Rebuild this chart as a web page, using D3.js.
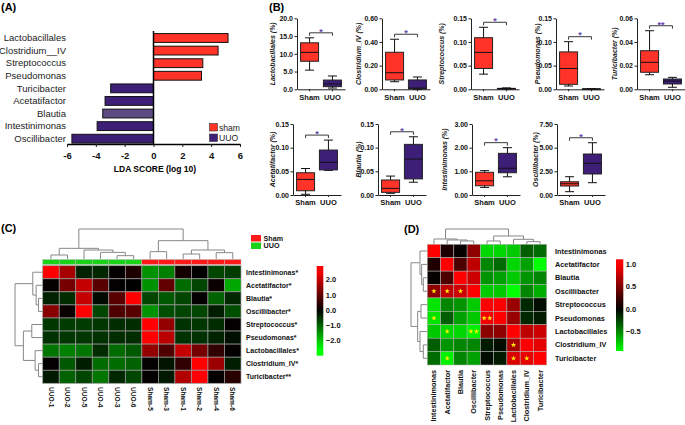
<!DOCTYPE html>
<html>
<head>
<meta charset="utf-8">
<script src="https://cdn.jsdelivr.net/npm/d3@7"></script>
<style>
  body { margin: 0; background: #fff; }
  svg { display: block; font-family: "Liberation Sans", Arial, sans-serif; }
</style>
</head>
<body>
<svg id="fig" width="685" height="425"></svg>
<script>
// ---------- (A) LDA scores
const ldaTaxa = ["Lactobacillales", "Clostridium__IV", "Streptococcus", "Pseudomonas", "Turicibacter",
                 "Acetatifactor", "Blautia", "Intestinimonas", "Oscillibacter"];
const ldaScore = [5.17, 4.48, 3.42, 3.33, -2.97, -3.36, -3.52, -3.91, -5.66];
const ldaGroup = ["sham", "sham", "sham", "sham", "UUO", "UUO", "UUO", "UUO", "UUO"];
const ldaTicks = [-6, -4, -2, 0, 2, 4, 6];
const ldaLegend = ["sham", "UUO"];

// ---------- (B) box plots: [min, q1, median, q3, max] in %
const boxTaxa = ["Lactobacillales", "Clostridium_IV", "Streptococcus", "Pseudomonas", "Turicibacter",
                 "Acetatifactor", "Blautia", "Intestinimonas", "Oscillibacter"];
const boxGroups = ["Sham", "UUO"];
const shamBox = [
  [5.4, 7.9, 10.4, 13.1, 14.5],
  [0.064, 0.079, 0.14, 0.313, 0.423],
  [0.032, 0.044, 0.078, 0.109, 0.131],
  [0.007, 0.0106, 0.044, 0.079, 0.1006],
  [0.0123, 0.0144, 0.0228, 0.0326, 0.0495],
  [0.0015, 0.009, 0.033, 0.047, 0.056],
  [0.0035, 0.0056, 0.014, 0.0317, 0.040],
  [0.32, 0.39, 0.60, 0.96, 1.03],
  [0.35, 0.95, 1.19, 1.40, 1.93]
];
const uuoBox = [
  [0.35, 0.75, 1.5, 2.6, 3.75],
  [0.0, 0.003, 0.01, 0.079, 0.104],
  [0.0005, 0.001, 0.0015, 0.002, 0.003],
  [0.0002, 0.0005, 0.0008, 0.001, 0.0015],
  [0.0017, 0.0045, 0.007, 0.0087, 0.0101],
  [0.052, 0.053, 0.069, 0.095, 0.116],
  [0.027, 0.034, 0.076, 0.107, 0.123],
  [0.77, 0.94, 1.13, 1.76, 2.0],
  [1.30, 2.22, 3.35, 4.33, 5.52]
];
const boxTicks = [
  [0, 5, 10, 15, 20], [0, 0.2, 0.4, 0.6], [0, 0.05, 0.10, 0.15], [0, 0.05, 0.10, 0.15],
  [0, 0.02, 0.04, 0.06], [0, 0.05, 0.10, 0.15], [0, 0.05, 0.10, 0.15], [0, 1, 2, 3], [0, 2.5, 5, 7.5]
];
const boxFmt = [".1f", ".2f", ".2f", ".2f", ".2f", ".2f", ".2f", ".2f", ".2f"];
const boxSig = ["*", "*", "*", "*", "**", "*", "*", "*", "*"];

// ---------- (C) z-score heatmap
const cCols = ["UUO-1", "UUO-2", "UUO-5", "UUO-4", "UUO-3", "UUO-6",
               "Sham-5", "Sham-3", "Sham-1", "Sham-2", "Sham-4", "Sham-6"];
const cColGroup = ["UUO", "UUO", "UUO", "UUO", "UUO", "UUO", "Sham", "Sham", "Sham", "Sham", "Sham", "Sham"];
const cRows = ["Intestinimonas", "Acetatifactor", "Blautia", "Oscillibacter", "Streptococcus",
               "Pseudomonas", "Lactobacillales", "Clostridium_IV", "Turicibacter"];
const cRowSig = ["*", "*", "*", "*", "*", "*", "*", "*", "**"];
const cZ = [
  [2.6, 1.7, -0.35, -0.4, 0.05, 0.3, -1.5, -1.3, 0.2, 0.0, -0.7, -0.6],
  [0.05, 1.2, 2.0, 0.9, 0.02, 0.0, -1.5, 1.0, -1.1, -0.7, 0.1, -1.7],
  [-0.35, -0.45, 2.0, -0.1, 0.9, 2.6, -0.7, -0.9, -0.7, 0.02, -1.0, -0.4],
  [1.4, 0.1, 2.6, -0.7, 0.8, 0.9, -1.5, -0.8, -0.7, -0.7, -0.3, -0.8],
  [-0.55, -0.6, -0.6, -0.55, -0.45, -0.45, 2.6, 1.5, -0.5, -0.55, -0.45, 0.02],
  [-0.5, -0.55, -0.55, -0.5, -0.45, -0.45, 2.6, 1.9, -0.5, -0.5, -0.35, -0.15],
  [-1.2, -1.3, -1.2, -0.45, -1.1, -0.9, 1.5, 0.8, 2.0, 1.2, 0.5, 0.05],
  [0.02, -0.9, -0.3, -1.1, -1.1, -1.0, 0.02, -0.2, 0.5, 2.6, 1.6, -0.3],
  [-0.25, -1.0, -0.7, -1.2, -0.4, -0.7, 0.05, -0.25, 1.8, 2.6, 0.02, 0.4]
];
const cTicks = [2, 1, 0, -1, -2];
// dendrograms: [height, left, right]
const cColTree = [90, [32, [12, "UUO-1", "UUO-2"], [27, "UUO-5", [20, "UUO-4", [10, "UUO-3", "UUO-6"]]]],
                      [55, [22, "Sham-5", "Sham-3"], [27, [15, "Sham-1", "Sham-2"], [19, "Sham-4", "Sham-6"]]]];
const cRowTree = [82, [29, "Intestinimonas", [19, "Acetatifactor", [12, "Blautia", "Oscillibacter"]]],
                      [57, [32, "Streptococcus", "Pseudomonas"], [22, "Lactobacillales", [12, "Clostridium_IV", "Turicibacter"]]]];

// ---------- (D) correlation heatmap
const dTaxa = ["Intestinimonas", "Acetatifactor", "Blautia", "Oscillibacter", "Streptococcus",
               "Pseudomonas", "Lactobacillales", "Clostridium_IV", "Turicibacter"];
const dCorr = [
  [1.0, 0.12, 0.02, 0.55, -0.8, -0.8, -0.75, -0.35, -0.4],
  [0.12, 1.0, 0.3, 0.75, -0.5, -0.4, -0.8, -0.6, -0.95],
  [0.02, 0.3, 1.0, 0.8, -0.55, -0.6, -0.75, -0.55, -0.5],
  [0.55, 0.75, 0.8, 1.0, -0.75, -0.75, -0.95, -0.5, -0.65],
  [-0.85, -0.5, -0.55, -0.75, 1.0, 0.98, 0.6, -0.15, -0.05],
  [-0.85, -0.35, -0.6, -0.75, 0.95, 1.0, 0.6, -0.15, -0.1],
  [-0.75, -0.8, -0.8, -0.9, 0.55, 0.55, 1.0, 0.75, 0.8],
  [-0.35, -0.55, -0.5, -0.5, -0.1, -0.05, 0.65, 1.0, 0.9],
  [-0.4, -0.9, -0.5, -0.6, -0.05, -0.1, 0.85, 0.9, 1.0]
];
const dStars = [
  ["Oscillibacter", "Intestinimonas", 1], ["Oscillibacter", "Acetatifactor", 1], ["Oscillibacter", "Blautia", 1],
  ["Pseudomonas", "Intestinimonas", 1], ["Pseudomonas", "Streptococcus", 2],
  ["Lactobacillales", "Acetatifactor", 1], ["Lactobacillales", "Oscillibacter", 2],
  ["Clostridium_IV", "Lactobacillales", 1],
  ["Turicibacter", "Acetatifactor", 1], ["Turicibacter", "Lactobacillales", 1], ["Turicibacter", "Clostridium_IV", 1]
];
const dTicks = [1.0, 0.5, 0.0, -0.5];
const dColTree = [46, [16, "Intestinimonas", [13, "Acetatifactor", [10, "Blautia", "Oscillibacter"]]],
                      [25, [10, "Streptococcus", "Pseudomonas"], [15, "Lactobacillales", [8, "Clostridium_IV", "Turicibacter"]]]];
const dRowTree = [49, [22, "Intestinimonas", [17, "Acetatifactor", [12, "Blautia", "Oscillibacter"]]],
                      [29, [19, "Streptococcus", "Pseudomonas"], [22, "Lactobacillales", [12, "Clostridium_IV", "Turicibacter"]]]];

// ---------- styles
const red = "#ff3328", purple = "#3d1f77", lightPurple = "#5d4b82", starPurple = "#6547b0";
const svg = d3.select("#fig");

function styleAxis(g, size, weight) {
  g.attr("font-family", null).attr("font-size", null);
  g.selectAll("text").attr("font-size", size).attr("font-weight", weight).attr("fill", "#111");
  g.selectAll("path.domain, line").attr("stroke", "#222");
}

function panelLabel(t, x, y) {
  svg.append("text").attr("x", x).attr("y", y).attr("font-size", 11).attr("font-weight", "bold").text(t);
}

// ================= (A)
panelLabel("(A)", 1, 10.5);
const gA = svg.append("g");
const xA = d3.scaleLinear().domain([-6, 6]).range([67, 240]);
const yA = d3.scaleBand().domain(ldaTaxa).range([31.7, 145]).paddingInner(0.3).paddingOuter(0.15);

gA.selectAll("rect.bar")
  .data(ldaTaxa)
  .enter().append("rect")
  .attr("x", (d, i) => xA(Math.min(0, ldaScore[i])))
  .attr("y", d => yA(d))
  .attr("width", (d, i) => Math.abs(xA(ldaScore[i]) - xA(0)))
  .attr("height", yA.bandwidth())
  .attr("fill", (d, i) => ldaGroup[i] === "sham" ? red : (d === "Blautia" ? lightPurple : purple))
  .attr("stroke", "#111")
  .attr("stroke-width", 1);

gA.append("line").attr("x1", xA(0)).attr("x2", xA(0)).attr("y1", 31).attr("y2", 144)
  .attr("stroke", "#000").attr("stroke-width", 1.5);

const axA = gA.append("g").attr("transform", "translate(0,144)")
  .call(d3.axisBottom(xA).tickValues(ldaTicks).tickFormat(d => String(d)).tickSize(3).tickPadding(5).tickSizeOuter(0));
styleAxis(axA, 9.5, "bold");
axA.select("path.domain").attr("stroke", "#000").attr("stroke-width", 1.3);

gA.selectAll("text.lab")
  .data(ldaTaxa)
  .enter().append("text")
  .attr("x", 66).attr("y", d => yA(d) + yA.bandwidth() / 2).attr("dy", "0.35em")
  .attr("text-anchor", "end").attr("font-size", 9.5).attr("fill", "#222").text(d => d);

gA.append("text").attr("x", 155).attr("y", 172).attr("text-anchor", "middle")
  .attr("font-size", 8.5).attr("font-weight", "bold").text("LDA SCORE (log 10)");

ldaLegend.forEach((k, i) => {
  gA.append("rect").attr("x", 209.5).attr("y", 123.5 + i * 10.5).attr("width", 8).attr("height", 7.5)
    .attr("fill", k === "sham" ? red : purple).attr("stroke", "#333").attr("stroke-width", 0.6);
  gA.append("text").attr("x", 219).attr("y", 130.5 + i * 10.5).attr("font-size", 8.6).attr("fill", "#222").text(k);
});

// ================= (B)
panelLabel("(B)", 269, 10.5);
const boxAxisX = [297, 382, 471, 556, 637, 293, 378, 472, 557];
const boxLabelOff = [24, 23, 29, 18, 22, 20, 19, 27, 21];
const rowRange = [[89.3, 18.3], [195, 124]];

boxTaxa.forEach((name, i) => {
  const row = i < 5 ? 0 : 1;
  const ax = boxAxisX[i];
  const ticks = boxTicks[i];
  const y = d3.scaleLinear().domain([0, ticks[ticks.length - 1]]).range(rowRange[row]);
  const x = d3.scaleBand().domain(boxGroups).range([ax, ax + 48]).paddingInner(0.1).paddingOuter(0.1);
  const g = svg.append("g");

  const ay = g.append("g").attr("transform", `translate(${ax},0)`)
    .call(d3.axisLeft(y).tickValues(ticks).tickFormat(d3.format(boxFmt[i])).tickSize(2.5).tickPadding(1.5).tickSizeOuter(0));
  styleAxis(ay, 7, "bold");
  const axb = g.append("g").attr("transform", `translate(0,${y(0)})`)
    .call(d3.axisBottom(x).tickSize(2).tickPadding(3).tickSizeOuter(0));
  styleAxis(axb, 7.5, "bold");

  const mid = (rowRange[row][0] + rowRange[row][1]) / 2;
  g.append("text")
    .attr("transform", `translate(${ax - boxLabelOff[i]},${mid}) rotate(-90)`)
    .attr("text-anchor", "middle").attr("dy", "0.35em")
    .attr("font-size", 7).attr("font-weight", "bold").attr("font-style", "italic").attr("fill", "#222")
    .text(name + " (%)");

  const bw = 18, cap = 9;
  [shamBox[i], uuoBox[i]].forEach((s, k) => {
    const cx = x(boxGroups[k]) + x.bandwidth() / 2;
    const fill = k === 0 ? red : purple;
    g.append("line").attr("x1", cx).attr("x2", cx).attr("y1", y(s[0])).attr("y2", y(s[4]))
      .attr("stroke", "#111").attr("stroke-width", 1);
    [s[0], s[4]].forEach(v => g.append("line").attr("x1", cx - cap / 2).attr("x2", cx + cap / 2)
      .attr("y1", y(v)).attr("y2", y(v)).attr("stroke", "#111").attr("stroke-width", 1));
    g.append("rect").attr("x", cx - bw / 2).attr("y", y(s[3])).attr("width", bw)
      .attr("height", Math.max(0.8, y(s[1]) - y(s[3])))
      .attr("fill", fill).attr("stroke", "#222").attr("stroke-width", 1);
    g.append("line").attr("x1", cx - bw / 2).attr("x2", cx + bw / 2).attr("y1", y(s[2])).attr("y2", y(s[2]))
      .attr("stroke", "#111").attr("stroke-width", 1);
  });

  // significance bracket
  const top = y(Math.max(shamBox[i][4], uuoBox[i][4])) - 5;
  const x1 = x("Sham") + x.bandwidth() / 2, x2 = x("UUO") + x.bandwidth() / 2;
  g.append("path").attr("d", `M${x1},${top + 3}V${top}H${x2}V${top + 3}`)
    .attr("fill", "none").attr("stroke", "#222").attr("stroke-width", 0.9);
  g.append("text").attr("x", (x1 + x2) / 2).attr("y", top + 1.8).attr("text-anchor", "middle")
    .attr("font-size", 9).attr("font-weight", "bold").attr("fill", starPurple).text(boxSig[i]);
});

// ---------- dendrogram helper
function dendro(g, tree, pos, hgt, vertical) {
  function walk(node) {
    if (typeof node === "string") return { p: pos(node) + pos.bandwidth() / 2, h: 0 };
    const a = walk(node[1]), b = walk(node[2]), h = node[0];
    const d = vertical
      ? `M${a.p},${hgt(a.h)}V${hgt(h)}H${b.p}V${hgt(b.h)}`
      : `M${hgt(a.h)},${a.p}H${hgt(h)}V${b.p}H${hgt(b.h)}`;
    g.append("path").attr("d", d).attr("fill", "none").attr("stroke", "#888").attr("stroke-width", 1);
    return { p: (a.p + b.p) / 2, h: h };
  }
  walk(tree);
}

function colorBar(id, x, y0, y1, w, scale, cscale, ticks, fmt) {
  const dom = scale.domain();
  const grad = svg.append("defs").append("linearGradient").attr("id", id)
    .attr("x1", 0).attr("y1", 0).attr("x2", 0).attr("y2", 1);
  d3.range(0, 1.0001, 0.05).forEach(t => {
    const v = dom[1] - t * (dom[1] - dom[0]);
    grad.append("stop").attr("offset", t).attr("stop-color", cscale(v));
  });
  svg.append("rect").attr("x", x).attr("y", y1).attr("width", w).attr("height", y0 - y1)
    .attr("fill", `url(#${id})`);
  svg.selectAll(`text.${id}`).data(ticks).enter().append("text")
    .attr("x", x + w + 2.5).attr("y", d => scale(d)).attr("dy", "0.35em")
    .attr("font-size", 7.5).attr("font-weight", "bold").attr("fill", "#111")
    .text(d => d3.format(fmt)(d));
}

// ================= (C)
panelLabel("(C)", 1, 232);
const gC = svg.append("g");
const xC = d3.scaleBand().domain(cCols).range([42.7, 241]);
const yC = d3.scaleBand().domain(cRows).range([265.7, 383.3]);
const colC = d3.scaleLinear().domain([-2.6, 0, 2.6]).range(["#00ff00", "#000000", "#ff0000"]).clamp(true);
const groupColor = { Sham: "#ff1a1a", UUO: "#19d219" };

cRows.forEach((r, ri) => {
  gC.selectAll(null).data(cCols).enter().append("rect")
    .attr("x", d => xC(d)).attr("y", yC(r)).attr("width", xC.bandwidth()).attr("height", yC.bandwidth())
    .attr("fill", (d, ci) => colC(cZ[ri][ci])).attr("stroke", "#9a9a9a").attr("stroke-width", 0.7);
});
gC.selectAll("rect.grp").data(cCols).enter().append("rect")
  .attr("x", d => xC(d)).attr("y", 259.5).attr("width", xC.bandwidth()).attr("height", 5)
  .attr("fill", (d, i) => groupColor[cColGroup[i]]).attr("stroke", "#bbb").attr("stroke-width", 0.4);

dendro(gC, cColTree, xC, d3.scaleLinear().domain([0, 90]).range([259, 229]), true);
dendro(gC, cRowTree, yC, d3.scaleLinear().domain([0, 82]).range([42.5, 15]), false);

gC.selectAll("text.rl").data(cRows).enter().append("text")
  .attr("x", 246).attr("y", d => yC(d) + yC.bandwidth() / 2).attr("dy", "0.35em")
  .attr("font-size", 7).attr("font-weight", "bold").attr("fill", "#111")
  .text((d, i) => d + cRowSig[i]);
gC.selectAll("text.cl").data(cCols).enter().append("text")
  .attr("transform", d => `translate(${xC(d) + xC.bandwidth() / 2},387) rotate(90)`)
  .attr("dy", "0.35em").attr("font-size", 6.6).attr("font-weight", "bold").attr("fill", "#111")
  .text(d => d);

["Sham", "UUO"].forEach((k, i) => {
  gC.append("rect").attr("x", 251).attr("y", 235 + i * 7.5).attr("width", 10).attr("height", 6.5)
    .attr("fill", groupColor[k]);
  gC.append("text").attr("x", 263.5).attr("y", 240.8 + i * 7.5).attr("font-size", 7.2)
    .attr("font-weight", "bold").attr("fill", "#111").text(k);
});
colorBar("cbarC", 316.7, 355.7, 266, 6.6, d3.scaleLinear().domain([-3, 2.9]).range([355.7, 266]), colC, cTicks, ".1f");

// ================= (D)
panelLabel("(D)", 404, 232.5);
const gD = svg.append("g");
const xD = d3.scaleBand().domain(dTaxa).range([427.3, 546.7]);
const yD = d3.scaleBand().domain(dTaxa).range([244.3, 365]);
const colD = d3.scaleLinear().domain([-0.95, 0, 1.0]).range(["#00ff00", "#000000", "#ff0000"]).clamp(true);

dTaxa.forEach((r, ri) => {
  gD.selectAll(null).data(dTaxa).enter().append("rect")
    .attr("x", d => xD(d)).attr("y", yD(r)).attr("width", xD.bandwidth()).attr("height", yD.bandwidth())
    .attr("fill", (d, ci) => colD(dCorr[ri][ci])).attr("stroke", "#b5b5b5").attr("stroke-width", 0.5);
});
const star = d3.symbol().type(d3.symbolStar).size(9);
dStars.forEach(([r, c, n]) => {
  const cx = xD(c) + xD.bandwidth() / 2, cy = yD(r) + yD.bandwidth() / 2;
  d3.range(n).forEach(k => {
    const dx = n === 1 ? 0 : (k === 0 ? -2.8 : 2.8);
    gD.append("path").attr("d", star).attr("transform", `translate(${cx + dx},${cy})`).attr("fill", "#ffee00");
  });
});

dendro(gD, dColTree, xD, d3.scaleLinear().domain([0, 46]).range([244.3, 229]), true);
dendro(gD, dRowTree, yD, d3.scaleLinear().domain([0, 49]).range([427.3, 411]), false);

gD.selectAll("text.rl").data(dTaxa).enter().append("text")
  .attr("x", 555).attr("y", d => yD(d) + yD.bandwidth() / 2).attr("dy", "0.35em")
  .attr("font-size", 7.3).attr("font-weight", "bold").attr("fill", "#111").text(d => d);
gD.selectAll("text.cl").data(dTaxa).enter().append("text")
  .attr("transform", d => `translate(${xD(d) + xD.bandwidth() / 2},370) rotate(-90)`)
  .attr("text-anchor", "end").attr("dy", "0.35em")
  .attr("font-size", 7.3).attr("font-weight", "bold").attr("fill", "#111").text(d => d);

colorBar("cbarD", 616, 351, 259.3, 7.3, d3.scaleLinear().domain([-0.94, 1.11]).range([351, 259.3]), colD, dTicks, ".1f");
</script>
</body>
</html>
